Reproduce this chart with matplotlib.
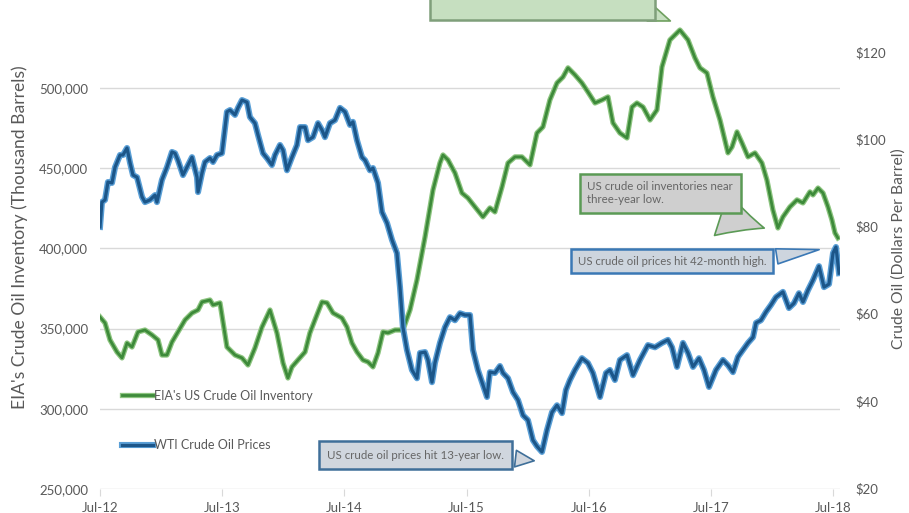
import numpy as np
import matplotlib
matplotlib.use('Agg')
import matplotlib.pyplot as plt
import matplotlib.patheffects as pe
from matplotlib.patches import Rectangle

# --- data (decimal years, weekly-ish samples) ---
inv_t = [2012.500, 2012.541, 2012.582, 2012.639, 2012.680, 2012.721, 2012.762, 2012.811, 2012.868, 2012.926,
         2012.975, 2013.007, 2013.048, 2013.089, 2013.138, 2013.196, 2013.253, 2013.302, 2013.335, 2013.400,
         2013.425, 2013.482, 2013.539, 2013.605, 2013.662, 2013.711, 2013.768, 2013.826, 2013.891, 2013.948,
         2013.998, 2014.038, 2014.071, 2014.120, 2014.178, 2014.218, 2014.259, 2014.317, 2014.358, 2014.407,
         2014.480, 2014.521, 2014.562, 2014.603, 2014.652, 2014.693, 2014.734, 2014.775, 2014.816, 2014.857,
         2014.914, 2014.979, 2015.037, 2015.094, 2015.160, 2015.225, 2015.282, 2015.307, 2015.348, 2015.405,
         2015.462, 2015.511, 2015.569, 2015.634, 2015.691, 2015.732, 2015.790, 2015.839, 2015.896, 2015.953,
         2016.019, 2016.076, 2016.125, 2016.182, 2016.240, 2016.289, 2016.330, 2016.387, 2016.444, 2016.493,
         2016.551, 2016.608, 2016.657, 2016.698, 2016.755, 2016.813, 2016.854, 2016.894, 2016.944, 2017.001,
         2017.058, 2017.099, 2017.164, 2017.246, 2017.312, 2017.369, 2017.410, 2017.467, 2017.516, 2017.574,
         2017.639, 2017.672, 2017.713, 2017.754, 2017.803, 2017.860, 2017.917, 2017.958, 2018.007, 2018.048,
         2018.089, 2018.146, 2018.204, 2018.253, 2018.310, 2018.335, 2018.376, 2018.417, 2018.458, 2018.490,
         2018.515, 2018.539]
# EIA's US crude oil inventory (thousand barrels)
inv_val = [357200, 353500, 342900, 335400, 331700, 341000, 338500, 347900, 349100, 346000,
           342900, 333500, 333500, 341600, 347900, 355400, 359700, 361600, 366600, 367800,
           364700, 366000, 338500, 333500, 331700, 327300, 337900, 351000, 361600, 347300,
           328500, 319200, 326100, 330400, 335400, 347300, 355400, 366600, 366000, 359700,
           356600, 351000, 341000, 335400, 330400, 329200, 326100, 334800, 347900, 347300,
           349100, 349100, 361600, 380300, 407100, 436400, 453200, 458200, 455100, 447000,
           434500, 431400, 425800, 419600, 425200, 422700, 438300, 453200, 457000, 457000,
           452000, 471900, 475700, 492500, 503100, 506800, 512500, 508100, 503100, 497500,
           490600, 492500, 494400, 478200, 471900, 468800, 488100, 490600, 488100, 480000,
           486300, 513100, 529900, 536100, 529900, 518700, 512500, 509300, 494400, 480000,
           459500, 463200, 472600, 465700, 457000, 459500, 453200, 442600, 423900, 412700,
           419600, 425800, 430200, 428300, 435200, 433300, 437600, 434500, 425800, 417700,
           409600, 406500]

wti_t = [2012.500, 2012.516, 2012.541, 2012.565, 2012.598, 2012.623, 2012.664, 2012.688, 2012.721, 2012.746,
         2012.770, 2012.803, 2012.844, 2012.868, 2012.909, 2012.950, 2012.966, 2013.007, 2013.048, 2013.089,
         2013.114, 2013.138, 2013.179, 2013.220, 2013.253, 2013.294, 2013.302, 2013.335, 2013.359, 2013.400,
         2013.425, 2013.457, 2013.498, 2013.539, 2013.564, 2013.605, 2013.629, 2013.662, 2013.703, 2013.727,
         2013.768, 2013.793, 2013.834, 2013.866, 2013.907, 2013.932, 2013.973, 2013.998, 2014.030, 2014.071,
         2014.112, 2014.137, 2014.178, 2014.202, 2014.243, 2014.284, 2014.317, 2014.341, 2014.382, 2014.423,
         2014.464, 2014.505, 2014.546, 2014.570, 2014.603, 2014.644, 2014.669, 2014.709, 2014.734, 2014.775,
         2014.808, 2014.849, 2014.890, 2014.930, 2014.955, 2014.979, 2015.012, 2015.053, 2015.094, 2015.119,
         2015.160, 2015.184, 2015.217, 2015.241, 2015.282, 2015.323, 2015.364, 2015.405, 2015.446, 2015.487,
         2015.528, 2015.552, 2015.593, 2015.667, 2015.691, 2015.732, 2015.773, 2015.798, 2015.839, 2015.880,
         2015.921, 2015.962, 2016.002, 2016.043, 2016.076, 2016.117, 2016.158, 2016.199, 2016.240, 2016.281,
         2016.313, 2016.346, 2016.387, 2016.444, 2016.493, 2016.534, 2016.592, 2016.641, 2016.673, 2016.714,
         2016.755, 2016.813, 2016.862, 2016.919, 2016.984, 2017.042, 2017.099, 2017.148, 2017.181, 2017.222,
         2017.271, 2017.312, 2017.353, 2017.402, 2017.443, 2017.484, 2017.541, 2017.598, 2017.639, 2017.680,
         2017.721, 2017.762, 2017.803, 2017.844, 2017.869, 2017.909, 2017.950, 2017.991, 2018.032, 2018.089,
         2018.138, 2018.179, 2018.220, 2018.253, 2018.294, 2018.335, 2018.384, 2018.425, 2018.466, 2018.499,
         2018.523, 2018.548]
# WTI crude oil price ($/barrel)
wti_val = [79.9, 85.6, 86.1, 90.2, 90.0, 93.6, 96.4, 96.4, 98.0, 94.6,
           91.8, 91.3, 86.8, 85.6, 86.1, 87.2, 85.6, 90.7, 93.6, 97.1,
           96.8, 95.2, 91.8, 94.1, 95.9, 91.3, 87.9, 92.3, 94.8, 95.7,
           94.8, 96.4, 96.8, 106.3, 106.7, 105.6, 107.2, 109.0, 108.5, 105.1,
           103.7, 101.0, 96.8, 95.7, 94.1, 96.4, 98.7, 97.5, 92.9, 95.9,
           98.7, 102.8, 102.8, 99.8, 100.5, 103.7, 102.1, 100.5, 103.7, 104.4,
           107.2, 106.3, 103.3, 104.0, 99.8, 95.9, 95.2, 92.9, 93.4, 90.0,
           83.3, 80.8, 76.9, 73.9, 66.1, 56.9, 51.7, 47.1, 45.2, 51.0,
           51.2, 49.4, 44.3, 48.7, 53.3, 56.9, 59.2, 58.5, 60.1, 59.7,
           59.7, 51.7, 47.1, 40.9, 46.6, 46.4, 48.0, 46.4, 45.2, 42.0,
           40.2, 36.7, 35.6, 31.0, 29.6, 28.3, 33.3, 37.4, 39.0, 37.2,
           42.5, 44.8, 47.1, 49.8, 48.7, 46.4, 40.9, 46.4, 47.1, 44.8,
           49.4, 50.5, 45.9, 49.4, 52.8, 52.3, 53.3, 54.0, 52.3, 47.8,
           53.3, 51.0, 47.8, 49.8, 47.1, 43.2, 47.1, 49.4, 48.2, 46.6,
           50.1, 51.7, 53.3, 54.6, 57.9, 58.5, 60.4, 62.0, 63.8, 65.0,
           61.3, 62.4, 64.7, 62.7, 65.4, 67.7, 70.9, 66.1, 66.8, 73.9,
           75.3, 69.3]

x_ticks = [2012.5, 2013.5, 2014.5, 2015.5, 2016.5, 2017.5, 2018.5]
x_labels = ['Jul-12', 'Jul-13', 'Jul-14', 'Jul-15', 'Jul-16', 'Jul-17', 'Jul-18']
inv_ticks = [250000, 300000, 350000, 400000, 450000, 500000]
wti_ticks = [20, 40, 60, 80, 100, 120]

plt.rcParams['font.family'] = ['Lato', 'DejaVu Sans']
grey = '#595959'

fig = plt.figure(figsize=(9.09, 5.13), dpi=100)
ax = fig.add_axes([100 / 909, 24 / 513, 740 / 909, 489 / 513])
ax2 = ax.twinx()

l1, = ax.plot(inv_t, inv_val, color='#3d8a3a', lw=2,
              path_effects=[pe.Stroke(linewidth=3.8, foreground='#8cc47f'), pe.Normal()])
l2, = ax2.plot(wti_t, wti_val, color='#1c5689', lw=2.3,
               path_effects=[pe.Stroke(linewidth=4.4, foreground='#5a9fd6'), pe.Normal()])

ax.set_xlim(2012.5, 2018.556)
ax.set_ylim(250000, 554800)
ax2.set_ylim(19.8, 131.95)

ax.set_xticks(x_ticks)
ax.set_xticklabels(x_labels)
ax.set_yticks(inv_ticks)
ax.set_yticklabels([f'{v:,.0f}' for v in inv_ticks])
ax2.set_yticks(wti_ticks)
ax2.set_yticklabels([f'${v}' for v in wti_ticks])

ax.grid(axis='y', color='#d9d9d9', lw=1)
ax.set_axisbelow(True)
for a in (ax, ax2):
    for s in a.spines.values():
        s.set_visible(False)

ax.tick_params(axis='y', length=0, pad=8.5, labelsize=9.5, labelcolor=grey)
ax2.tick_params(axis='y', length=0, pad=11, labelsize=9.5, labelcolor=grey)
ax.tick_params(axis='x', length=5, color='#d9d9d9', pad=4, labelsize=9.5, labelcolor=grey)

ax.set_ylabel("EIA's Crude Oil Inventory (Thousand Barrels)", fontsize=12.6, color=grey)
ax.yaxis.set_label_coords(-0.097, 0.515)
ax2.set_ylabel('Crude Oil (Dollars Per Barrel)', fontsize=11.3, color=grey)
ax2.yaxis.set_label_coords(1.069, 0.491)

ax2.legend([l1, l2], ["EIA's US Crude Oil Inventory", 'WTI Crude Oil Prices'],
           loc='upper left', bbox_to_anchor=(0.0297, 0.203), frameon=False,
           fontsize=9, labelcolor=grey, handlelength=2.5, handletextpad=0.1,
           labelspacing=3.0, borderpad=0, borderaxespad=0)

# callouts
ax.annotate('US crude oil inventories near\nthree-year low.', xy=(2017.958, 412100),
            xytext=(0.757, 0.605), textcoords='axes fraction', ha='center', va='center',
            multialignment='left', fontsize=8.3, color='#666666',
            bbox=dict(boxstyle='square,pad=0.65', fc='#cfcfcf', ec='#5b9a55', lw=1.8),
            arrowprops=dict(arrowstyle='wedge,tail_width=3.2,shrink_factor=0.45', relpos=(0.62, 0.2),
                            fc='#cfcfcf', ec='#5b9a55', lw=1.2, mutation_scale=10))
ax2.annotate('US crude oil prices hit 42-month high.', xy=(2018.408, 74.8),
             xytext=(0.773, 0.466), textcoords='axes fraction', ha='center', va='center',
             fontsize=8.2, color='#666666',
             bbox=dict(boxstyle='square,pad=0.6', fc='#cdd5de', ec='#3a78b5', lw=1.8),
             arrowprops=dict(arrowstyle='wedge,tail_width=1.1,shrink_factor=0.5', relpos=(0.97, 0.7),
                             fc='#cdd5de', ec='#3a78b5', lw=1.2, mutation_scale=10))
ax2.annotate('US crude oil prices hit 13-year low.', xy=(2016.076, 26.2),
             xytext=(0.426, 0.0695), textcoords='axes fraction', ha='center', va='center',
             fontsize=8.3, color='#666666',
             bbox=dict(boxstyle='square,pad=0.7', fc='#d0d6de', ec='#3f6f99', lw=1.8),
             arrowprops=dict(arrowstyle='wedge,tail_width=1.2,shrink_factor=0.5', relpos=(0.97, 0.35),
                             fc='#d0d6de', ec='#3f6f99', lw=1.2, mutation_scale=10))

# top callout (cut off by the image edge)
ax.add_patch(Rectangle((0.446, 0.959), 0.304, 0.1, transform=ax.transAxes, fc='#c6dfc0',
                       ec='#7f9f7a', lw=1.8, clip_on=False, zorder=5))
ax.annotate('', xy=(2017.189, 541100), xytext=(0.74, 0.975), textcoords='axes fraction',
            arrowprops=dict(arrowstyle='wedge,tail_width=1.2,shrink_factor=0.5',
                            fc='#c6dfc0', ec='#6fa05f', lw=1.2, mutation_scale=10), zorder=4)

fig.savefig('out.png', dpi=100)
